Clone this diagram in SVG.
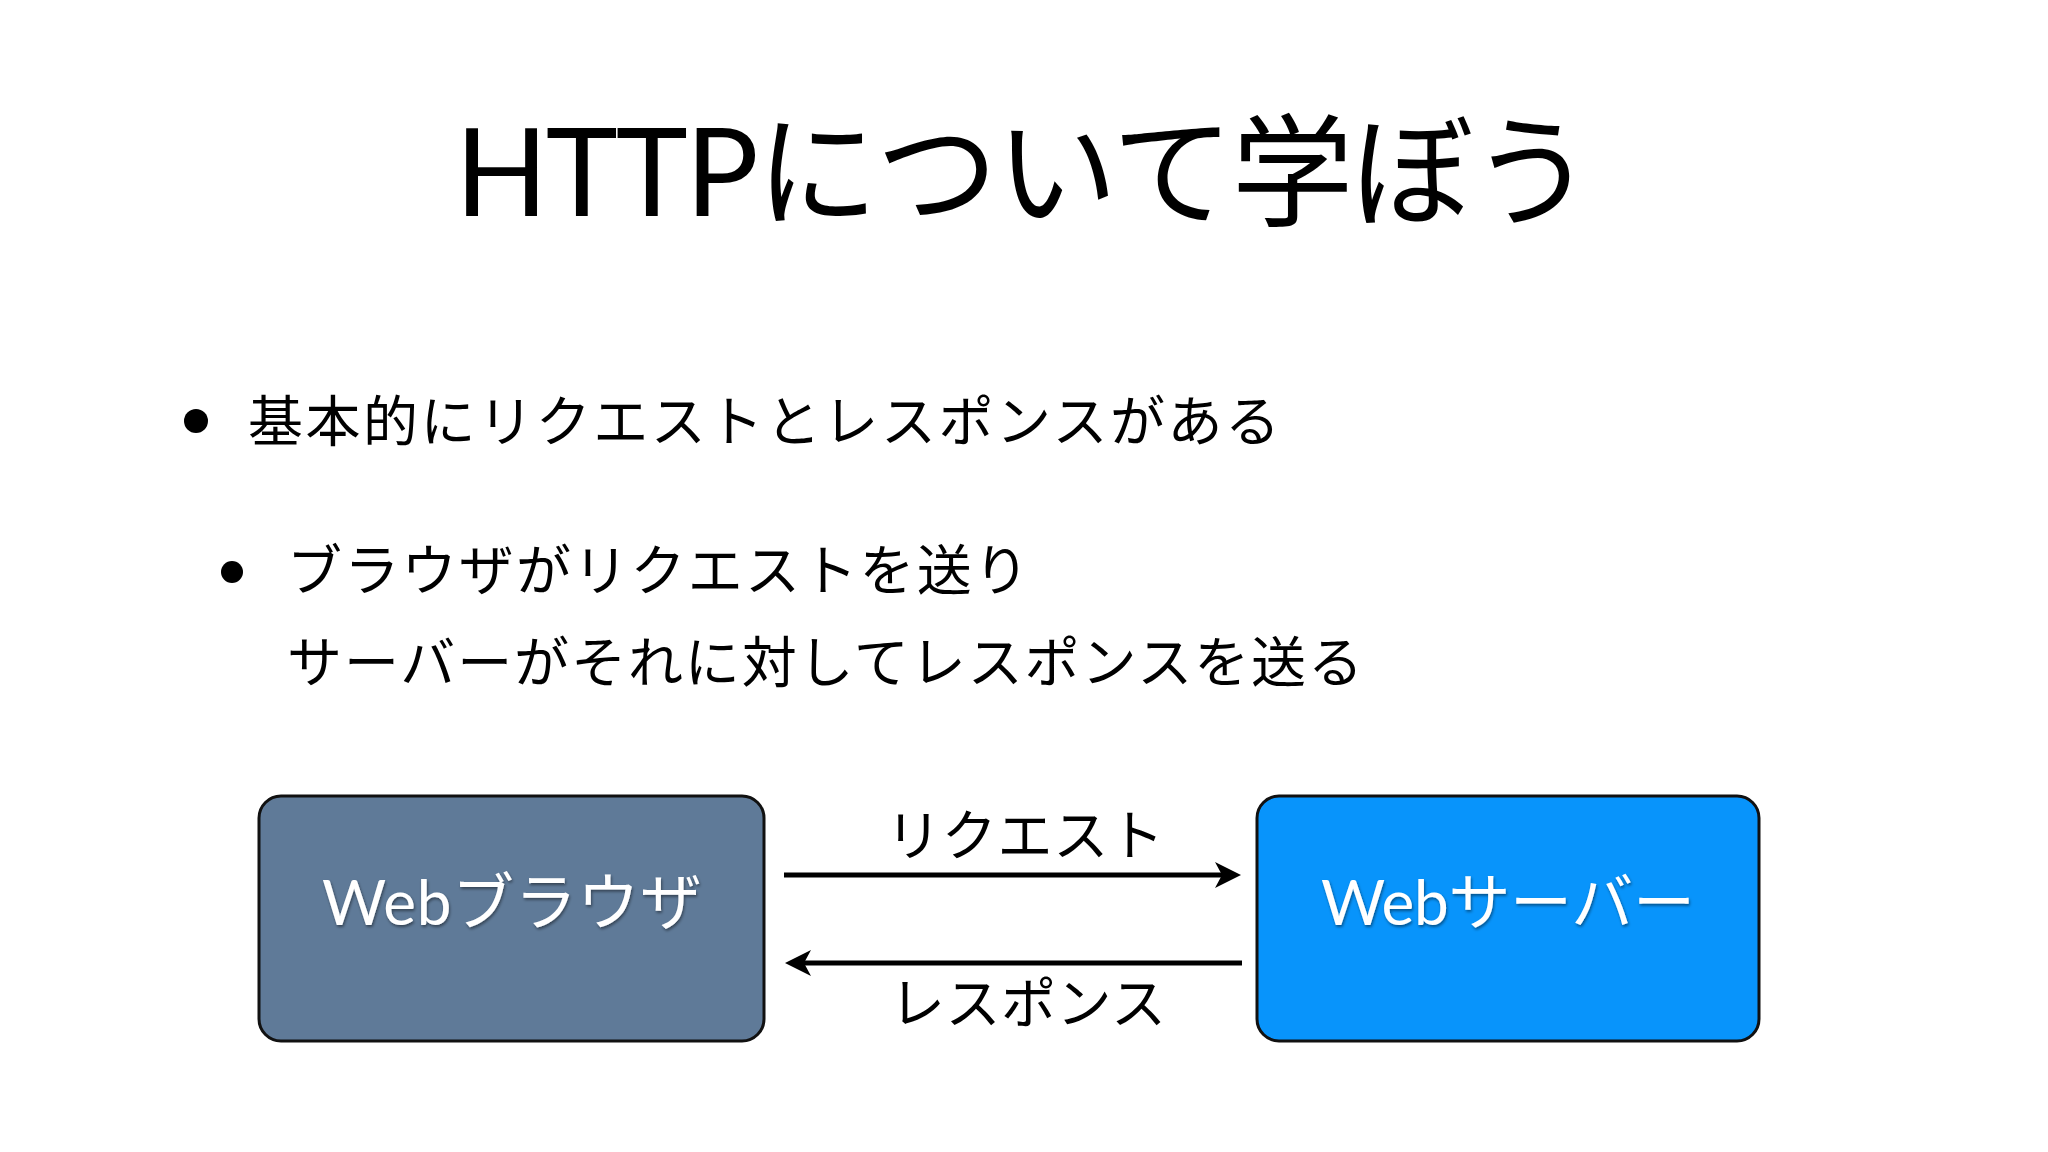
<svg xmlns="http://www.w3.org/2000/svg" width="2048" height="1152" viewBox="0 0 2048 1152">
  <style>
    .t { font-family: Lato, "Noto Sans CJK JP", sans-serif; fill: #000; }
    .title { font-size: 122px; }
    .body { font-size: 55px; }
    .lbl { font-size: 55px; }
    .node-text { font-family: Lato, "Noto Sans CJK JP", sans-serif; font-size: 62px; fill: #fff; }
    .box { stroke: #111; stroke-width: 3; }
    .conn { stroke: #000; stroke-width: 5; fill: none; }
  </style>
  <defs>
    <marker id="arr" viewBox="0 0 26 26" markerWidth="26" markerHeight="26" refX="15" refY="13" orient="auto" markerUnits="userSpaceOnUse">
      <path d="M0,0 L26,13 L0,26 L7,13 Z" fill="#000"/>
    </marker>
    <filter id="sh" x="-10%" y="-20%" width="120%" height="140%">
      <feDropShadow dx="1" dy="2" stdDeviation="1.5" flood-color="#000" flood-opacity="0.45"/>
    </filter>
  </defs>
  <rect width="2048" height="1152" fill="#fff"/>

  <g id="title">
    <text class="t title" x="455" y="216" textLength="1138" lengthAdjust="spacing">HTTPについて学ぼう</text>
  </g>

  <g id="bullets">
    <circle cx="196" cy="421" r="12" fill="#000"/>
    <text class="t body" x="248" y="441" textLength="1032" lengthAdjust="spacing">基本的にリクエストとレスポンスがある</text>
    <circle cx="232" cy="572" r="11" fill="#000"/>
    <text class="t body" x="287" y="590" textLength="742" lengthAdjust="spacing">ブラウザがリクエストを送り</text>
    <text class="t body" x="287" y="682" textLength="1076" lengthAdjust="spacing">サーバーがそれに対してレスポンスを送る</text>
  </g>

  <g id="node-browser">
    <rect class="box" x="259" y="796" width="505" height="245" rx="22" ry="22" fill="#5f7a98"/>
    <text class="node-text" x="322" y="925" textLength="380" lengthAdjust="spacing" filter="url(#sh)">Webブラウザ</text>
  </g>

  <g id="node-server">
    <rect class="box" x="1257" y="796" width="502" height="245" rx="22" ry="22" fill="#0894fb"/>
    <text class="node-text" x="1321" y="925" textLength="374" lengthAdjust="spacing" filter="url(#sh)">Webサーバー</text>
  </g>

  <g id="connectors">
    <line class="conn" x1="784" y1="875" x2="1230" y2="875" marker-end="url(#arr)"/>
    <text class="t lbl" x="886" y="855" textLength="278" lengthAdjust="spacing">リクエスト</text>
    <line class="conn" x1="1242" y1="963" x2="796" y2="963" marker-end="url(#arr)"/>
    <text class="t lbl" x="890" y="1023" textLength="276" lengthAdjust="spacing">レスポンス</text>
  </g>
</svg>
